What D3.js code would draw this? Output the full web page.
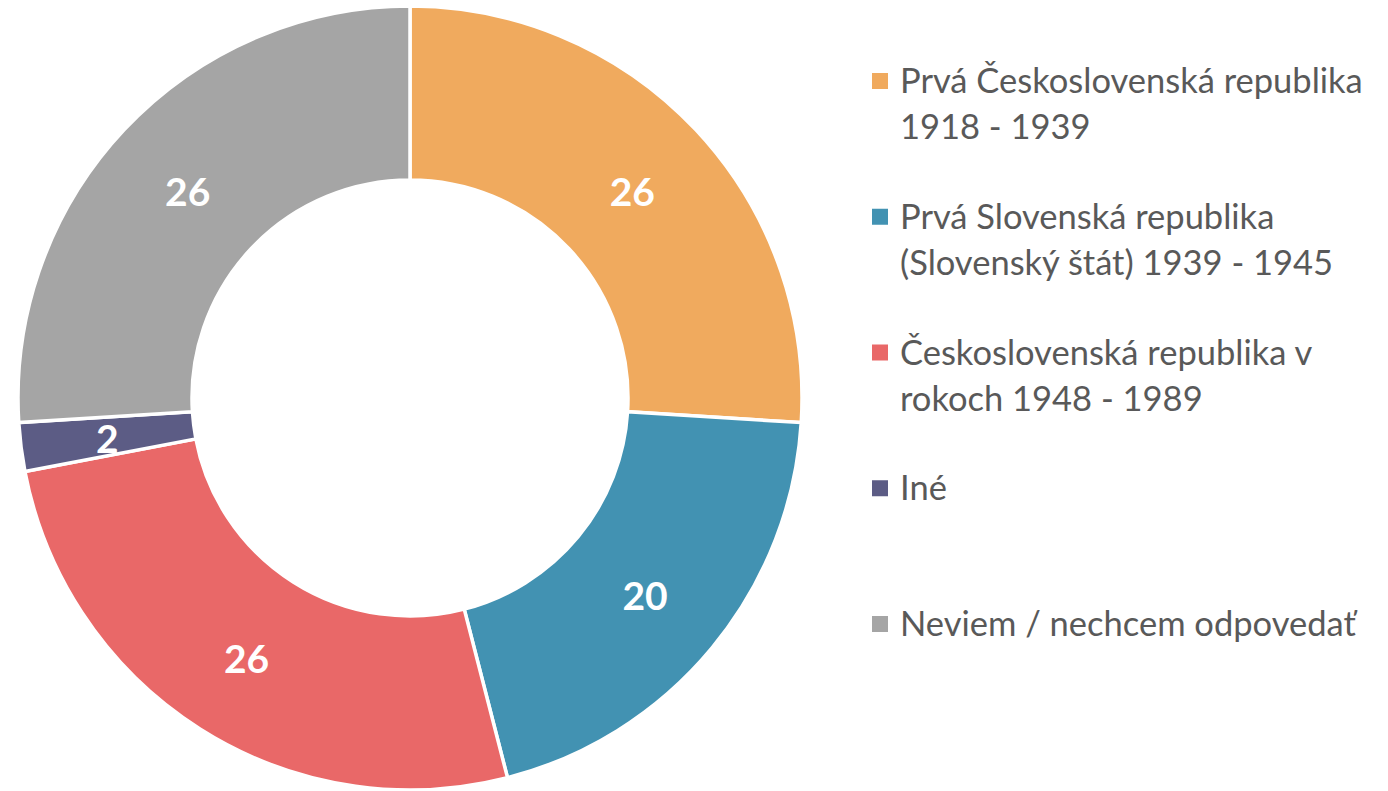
<!DOCTYPE html>
<html>
<head>
<meta charset="utf-8">
<script src="https://cdn.jsdelivr.net/npm/d3@7"></script>
<style>
  body { margin: 0; background: #fff; }
  text { font-family: Lato, "Open Sans", sans-serif; }
</style>
</head>
<body>
<div id="chart"></div>
<script>
const WIDTH = 1388;
const HEIGHT = 791;

const CATEGORIES = [
    ["Prvá Československá republika", "1918 - 1939"],
    ["Prvá Slovenská republika", "(Slovenský štát) 1939 - 1945"],
    ["Československá republika v", "rokoch 1948 - 1989"],
    ["Iné"],
    ["Neviem / nechcem odpovedať"]
];
const VALUES = [26, 20, 26, 2, 26];
const COLORS = ["#F0AA5E", "#4292B2", "#E96868", "#5C5C85", "#A5A5A5"];

const CENTER = { x: 410, y: 398 };
const OUTER = 392;
const INNER = 218;

const svg = d3.select("#chart").append("svg")
    .attr("width", WIDTH)
    .attr("height", HEIGHT)
    .attr("viewBox", [0, 0, WIDTH, HEIGHT]);

const pie = d3.pie().sort(null).value(d => d);
const arc = d3.arc().innerRadius(INNER).outerRadius(OUTER);
const labelArc = d3.arc().innerRadius(305).outerRadius(305);

const g = svg.append("g")
    .attr("transform", `translate(${CENTER.x},${CENTER.y})`);

const arcs = pie(VALUES);

// Slices
g.selectAll("path")
    .data(arcs)
    .join("path")
    .attr("d", arc)
    .attr("fill", (d, i) => COLORS[i])
    .attr("stroke", "#fff")
    .attr("stroke-width", 3.5);

// Value labels
g.selectAll("text")
    .data(arcs)
    .join("text")
    .attr("transform", d => `translate(${labelArc.centroid(d)})`)
    .attr("text-anchor", "middle")
    .attr("dy", "0.44em")
    .style("font-size", "39px")
    .style("font-weight", "bold")
    .style("fill", "#fff")
    .text(d => d.data);

// Legend
const legendY = d3.scalePoint()
    .domain(d3.range(CATEGORIES.length))
    .range([93, 636]);

const legend = svg.append("g")
    .selectAll("g")
    .data(CATEGORIES)
    .join("g")
    .attr("transform", (d, i) => `translate(872,${legendY(i)})`);

legend.append("rect")
    .attr("x", 0)
    .attr("y", -20)
    .attr("width", 16)
    .attr("height", 16)
    .attr("fill", (d, i) => COLORS[i]);

legend.append("text")
    .style("font-size", "34.5px")
    .style("fill", "#595959")
    .selectAll("tspan")
    .data(d => d)
    .join("tspan")
    .attr("x", 28)
    .attr("y", (d, j) => j * 46)
    .text(d => d);
</script>
</body>
</html>
